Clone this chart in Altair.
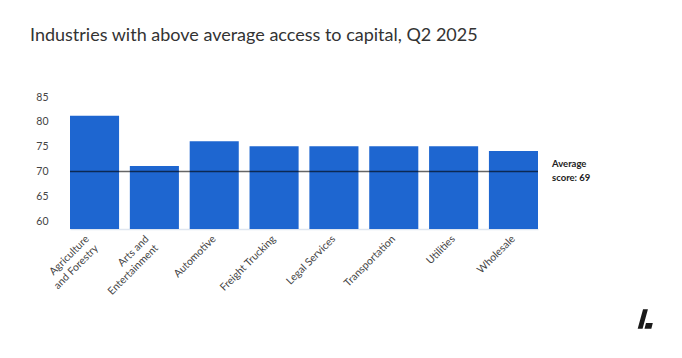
import altair as alt
import pandas as pd

industries = ["Agriculture and Forestry", "Arts and Entertainment", "Automotive",
              "Freight Trucking", "Legal Services", "Transportation", "Utilities", "Wholesale"]
scores = [81.2, 71.1, 76.1, 75.1, 75.1, 75.1, 75.1, 74.1]
average_line = [70]
average_label = ["Average", "score: 69"]
y_ticks = [60, 65, 70, 75, 80, 85]
y_min, y_max = 58.4, 85

df = pd.DataFrame({"industry": industries, "score": scores, "base": [y_min] * len(scores)})
avg_df = pd.DataFrame({"avg": average_line})

FONT = "Lato"
W, H = 468, 132

label_expr = ("datum.label == 'Agriculture and Forestry' ? ['Agriculture', 'and Forestry'] : "
              "datum.label == 'Arts and Entertainment' ? ['Arts and', 'Entertainment'] : datum.label")
multi_test = "datum.value == 'Agriculture and Forestry' || datum.value == 'Arts and Entertainment'"

yscale = alt.Scale(domain=[y_min, y_max], nice=False, zero=False)
yaxis = alt.Axis(values=y_ticks, grid=False, ticks=False, domain=False, labelOverlap=False,
                 labelFont=FONT, labelFontSize=10.5, labelColor="#444", labelPadding=22,
                 labelExpr="datum.label")

x = alt.X("industry:N", sort=industries, title=None,
          scale=alt.Scale(paddingInner=0.18, paddingOuter=0.0),
          axis=alt.Axis(labelAngle=-45, labelAlign="right", labelBaseline="middle",
                        labelFont=FONT, labelFontSize=10.5, labelColor="#444",
                        labelPadding=8, labelLineHeight=13, labelExpr=label_expr,
                        labelOffset={"condition": {"test": multi_test, "value": -7}, "value": 0},
                        ticks=False, domainColor="#dfe6f0", domainWidth=1.5))

bars = alt.Chart(df).mark_bar(color="#1e66d0").encode(
    x=x, y=alt.Y("score:Q", title=None, scale=yscale, axis=yaxis), y2="base:Q")

rule = alt.Chart(avg_df).mark_rule(color="#000", opacity=0.6, strokeWidth=1.6).encode(
    y=alt.Y("avg:Q", title=None, scale=yscale, axis=yaxis), x=alt.value(0), x2=alt.value(W))

text = alt.Chart(avg_df).mark_text(align="left", baseline="middle", font=FONT, fontSize=9.5,
                                   fontWeight="bold", color="#222", lineHeight=14, dy=-7).encode(
    y=alt.Y("avg:Q", title=None, scale=yscale, axis=yaxis), x=alt.value(W + 14),
    text=alt.value(average_label))

logo_path = "M -0.2 -1 L 0.3 -1 L -0.25 1 L -0.75 1 Z M 0.1 0.4 L 0.8 0.4 L 0.65 1 L -0.05 1 Z"
logo = alt.Chart(avg_df).mark_point(shape=logo_path, filled=True, color="#1a1a1a", size=380,
                                    opacity=1, strokeWidth=0).encode(
    x=alt.value(575), y=alt.value(222))

chart = (bars + rule + text + logo).properties(
    width=W, height=H,
    autosize=alt.AutoSizeParams(type="none"),
    padding={"left": 62, "top": 89, "right": 136, "bottom": 121},
    background="white",
    title=alt.TitleParams("Industries with above average access to capital, Q2 2025",
                          anchor="start", frame="group", font=FONT, fontSize=18,
                          fontWeight="normal", color="#333", dx=-40, offset=47),
).configure_view(stroke=None)

chart.save("out.html", embed_options={"renderer": "svg", "actions": False})
